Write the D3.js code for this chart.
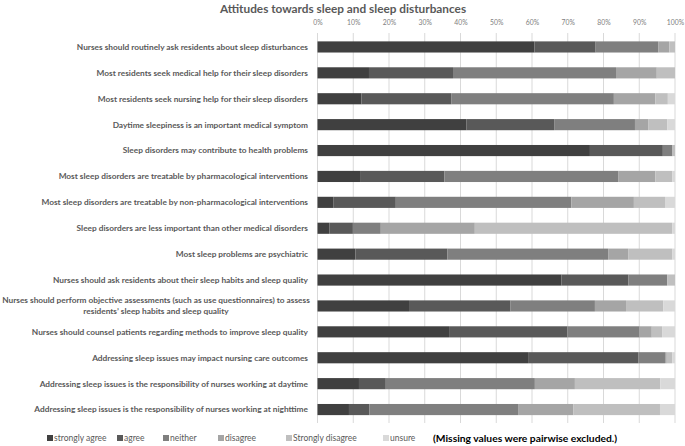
<!DOCTYPE html>
<html><head><meta charset="utf-8">
<script src="https://cdn.jsdelivr.net/npm/d3@7"></script>
<style>body{margin:0;background:#fff}svg{display:block}text{font-family:Lato,"Open Sans",sans-serif}</style>
</head><body><svg id="c" width="685" height="446"></svg>
<script>
const categories = [
  "Nurses should routinely ask residents about sleep disturbances",
  "Most residents seek medical help for their sleep disorders",
  "Most residents seek nursing help for their sleep disorders",
  "Daytime sleepiness is an important medical symptom",
  "Sleep disorders may contribute to health problems",
  "Most sleep disorders are treatable by pharmacological interventions",
  "Most sleep disorders are treatable by non-pharmacological interventions",
  "Sleep disorders are less important than other medical disorders",
  "Most sleep problems are psychiatric",
  "Nurses should ask residents about their sleep habits and sleep quality",
  "Nurses should perform objective assessments (such as use questionnaires) to assess|residents\u2019 sleep habits and sleep quality",
  "Nurses should counsel patients regarding methods to improve sleep quality",
  "Addressing sleep issues may impact nursing care outcomes",
  "Addressing sleep issues is the responsibility of nurses working at daytime",
  "Addressing sleep issues is the responsibility of nurses working at nighttime"
];
const seriesNames = ["strongly agree","agree","neither","disagree","Strongly disagree","unsure"];
const stronglyAgree   = [60.7,14.4,12.3,41.7,76.2,11.9, 4.4, 3.3,10.6,68.2,25.6,36.8,58.9,11.6, 8.8];
const agree           = [17.1,23.5,25.1,24.5,20.4,23.6,17.5, 6.6,25.7,18.8,28.4,33.1,30.8, 7.5, 5.7];
const neither         = [17.5,45.6,45.5,22.6, 2.7,48.6,49.1, 7.8,45.0,10.8,23.6,20.2, 7.5,41.7,41.6];
const disagree        = [ 3.1,11.4,11.6, 3.7, 0.0,10.4,17.5,26.3, 5.6, 0.0, 8.7, 3.4, 0.5,11.2,15.5];
const stronglyDisagree= [ 1.6, 5.1, 3.5, 5.3, 0.7, 4.7, 8.7,55.2,12.3, 2.2,10.4, 2.9, 1.5,23.9,24.2];
const unsure          = [ 0.0, 0.0, 2.0, 2.2, 0.0, 0.8, 2.8, 0.8, 0.8, 0.0, 3.3, 3.6, 0.8, 4.1, 4.2];
const tickValues = [0,10,20,30,40,50,60,70,80,90,100];
const legendNote = "(Missing values were pairwise excluded.)";
const colors = ["#404040","#595959","#7f7f7f","#a5a5a5","#bfbfbf","#d9d9d9"];

const seriesArrays = [stronglyAgree,agree,neither,disagree,stronglyDisagree,unsure];
const rows = categories.map((c,i)=>{const o={cat:c}; seriesNames.forEach((s,j)=>o[s]=seriesArrays[j][i]); return o;});
const stack = d3.stack().keys(seriesNames)(rows);

const svg = d3.select("#c");
const x = d3.scaleLinear().domain([0,100]).range([317.5,675]);
const y = d3.scaleBand().domain(categories).range([34,422.5]).paddingInner(0.57).paddingOuter(0.285);

svg.append("text").attr("x",343).attr("y",12.5).attr("text-anchor","middle")
  .attr("font-size",11.8).attr("font-weight","bold").attr("fill","#595959")
  .text("Attitudes towards sleep and sleep disturbances");

// gridlines
svg.append("g").selectAll("line").data(tickValues).join("line")
  .attr("x1",d=>x(d)).attr("x2",d=>x(d)).attr("y1",33).attr("y2",423)
  .attr("stroke","#d9d9d9").attr("stroke-width",1);

// top axis labels
const ax = svg.append("g").attr("transform","translate(0,25)")
  .call(d3.axisTop(x).tickValues(tickValues).tickFormat(d=>d+"%").tickSize(0).tickPadding(0));
ax.select(".domain").remove();
ax.selectAll("text").attr("font-size",6.8).attr("fill","#808080").attr("font-family","Lato,sans-serif");

// bars
svg.append("g").selectAll("g").data(stack).join("g").attr("fill",(d,i)=>colors[i])
  .selectAll("rect").data(d=>d).join("rect")
  .attr("x",d=>x(d[0])).attr("width",d=>Math.max(0,x(d[1])-x(d[0])))
  .attr("y",d=>y(d.data.cat)).attr("height",y.bandwidth());

// category labels
const lab = svg.append("g").selectAll("text").data(categories).join("text")
  .attr("font-size",8.3).attr("font-weight","bold").attr("fill","#595959");
lab.each(function(c){
  const t=d3.select(this); const parts=c.split("|"); const cy=y(c)+y.bandwidth()/2;
  if(parts.length===1){
    t.attr("x",308).attr("y",cy).attr("dy","0.35em").attr("text-anchor","end").text(c);
  } else {
    t.attr("text-anchor","middle");
    t.append("tspan").attr("x",156).attr("y",cy-5.5).attr("dy","0.35em").text(parts[0]);
    t.append("tspan").attr("x",156).attr("y",cy+5.5).attr("dy","0.35em").text(parts[1]);
  }
});

// legend
const legX = [47,117,163,218,286,383];
const lg = svg.append("g").selectAll("g").data(seriesNames).join("g")
  .attr("transform",(d,i)=>`translate(${legX[i]},438)`);
lg.append("rect").attr("x",0).attr("y",-3).attr("width",6).attr("height",6).attr("fill",(d,i)=>colors[i]);
lg.append("text").attr("x",7).attr("y",0).attr("dy","0.35em").attr("font-size",8.5).attr("fill","#595959").text(d=>d);
svg.append("text").attr("x",433).attr("y",438).attr("dy","0.35em").attr("font-size",10.3)
  .attr("font-weight","bold").attr("fill","#000").text(legendNote);
</script></body></html>
